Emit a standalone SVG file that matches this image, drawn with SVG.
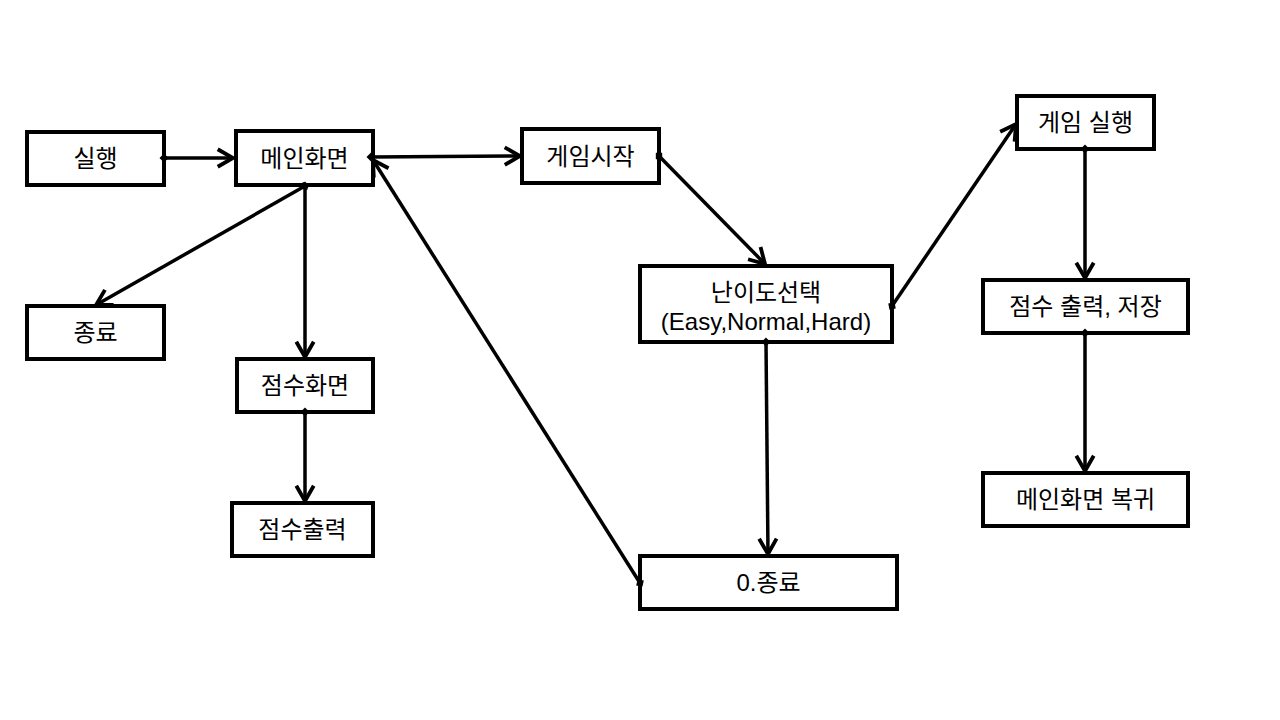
<svg xmlns="http://www.w3.org/2000/svg" width="1280" height="720" viewBox="0 0 1280 720">
<style>
.box{fill:#fff;stroke:#000;stroke-width:4}
.t{font-family:"Liberation Sans","Noto Sans CJK KR",sans-serif;font-size:24px;fill:#000;text-anchor:middle;dominant-baseline:central}
.c{fill:none;stroke:#000;stroke-width:3.5;marker-start:url(#dot);marker-end:url(#arr)}
</style>
<defs>
<marker id="arr" markerUnits="userSpaceOnUse" markerWidth="24" markerHeight="24" viewBox="-20 -10 22 20" refX="0" refY="0" orient="auto">
<path d="M-14,-8 L0,0 L-14,8" fill="none" stroke="#000" stroke-width="3.5" stroke-linejoin="miter"/>
</marker>
<marker id="dot" markerUnits="userSpaceOnUse" markerWidth="12" markerHeight="12" viewBox="-6 -6 12 12" refX="0" refY="0" orient="auto">
<path d="M-4.5,0 L0,-4.5 L4.5,0 L0,4.5 Z" fill="#000"/>
</marker>
</defs>
<rect width="1280" height="720" fill="#fff"/>
<g id="n-run"><rect class="box" x="27" y="132" width="137" height="53"/><text class="t" x="95.5" y="158.5">실행</text></g>
<g id="n-main"><rect class="box" x="236" y="131" width="137" height="54"/><text class="t" x="304.5" y="158">메인화면</text></g>
<g id="n-start"><rect class="box" x="522" y="129" width="137" height="54"/><text class="t" x="590.5" y="156">게임시작</text></g>
<g id="n-exit"><rect class="box" x="27" y="306" width="137" height="53"/><text class="t" x="95.5" y="332.5">종료</text></g>
<g id="n-score"><rect class="box" x="237" y="359" width="136" height="53"/><text class="t" x="305" y="385.5">점수화면</text></g>
<g id="n-scoreout"><rect class="box" x="232" y="503" width="141" height="53"/><text class="t" x="302.5" y="529.5">점수출력</text></g>
<g id="n-level"><rect class="box" x="640" y="266" width="252" height="76"/><text class="t" x="766" y="292">난이도선택</text><text class="t" x="766" y="321">(Easy,Normal,Hard)</text></g>
<g id="n-quit0"><rect class="box" x="640" y="556" width="257" height="53"/><text class="t" x="768.5" y="582.5">0.종료</text></g>
<g id="n-play"><rect class="box" x="1017" y="96" width="137" height="53"/><text class="t" x="1085.5" y="122.5">게임 실행</text></g>
<g id="n-save"><rect class="box" x="983" y="280" width="205" height="53"/><text class="t" x="1085.5" y="306.5">점수 출력, 저장</text></g>
<g id="n-back"><rect class="box" x="983" y="473" width="205" height="53"/><text class="t" x="1085.5" y="499.5">메인화면 복귀</text></g>
<g id="connectors">
<line class="c" x1="164" y1="158" x2="233" y2="158"/>
<line class="c" x1="371" y1="157" x2="520" y2="156"/>
<line class="c" x1="305" y1="186" x2="96" y2="305"/>
<line class="c" x1="305" y1="186" x2="305" y2="357"/>
<line class="c" x1="305" y1="412" x2="305" y2="501"/>
<line class="c" x1="640" y1="583" x2="373" y2="160"/>
<line class="c" x1="659" y1="156" x2="765" y2="264"/>
<line class="c" x1="892" y1="306" x2="1016" y2="124"/>
<line class="c" x1="766" y1="342" x2="768" y2="554"/>
<line class="c" x1="1085" y1="149" x2="1085" y2="278"/>
<line class="c" x1="1085" y1="333" x2="1085" y2="471"/>
</g>
</svg>
